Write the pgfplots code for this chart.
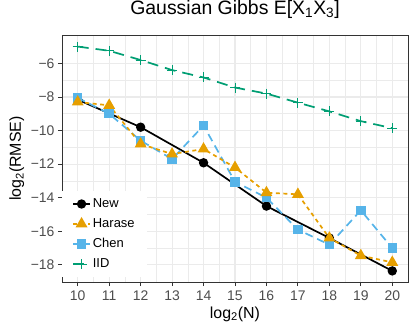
\documentclass[border=0pt]{standalone}
\usepackage{pgfplots}
\pgfplotsset{compat=1.18}
\usepackage{fontspec}
\setmainfont{Liberation Sans}
\definecolor{cnew}{HTML}{000000}
\definecolor{char}{HTML}{E69F00}
\definecolor{cchen}{HTML}{56B4E9}
\definecolor{ciid}{HTML}{009E73}
\definecolor{gridc}{HTML}{EBEBEB}
\definecolor{g20}{HTML}{333333}
\definecolor{g30}{HTML}{4D4D4D}
\begin{document}
\begin{tikzpicture}
\path[use as bounding box] (-62bp,-50bp) rectangle (353bp,282bp);
\begin{axis}[
  at={(0,0)}, anchor=south west,
  scale only axis, width=346bp, height=247bp,
  xmin=9.5, xmax=20.5, ymin=-19.02, ymax=-4.31,
  xtick={10,...,20},
  xticklabels={10,11,12,13,14,15,16,17,18,19,20},
  ytick={-18,-16,-14,-12,-10,-8,-6},
  yticklabels={−18,−16,−14,−12,−10,−8,−6},
  /pgf/number format/assume math mode=true,
  minor x tick num=1, minor y tick num=1,
  grid=both,
  major grid style={gridc, line width=1.1bp},
  minor grid style={gridc, line width=0.55bp},
  axis line style={g20, line width=0.9bp},
  tick align=outside, major tick length=4bp, minor tick length=0pt,
  tick style={g20, line width=0.9bp},
  xtick pos=bottom, ytick pos=left,
  ticklabel style={font=\fontsize{14}{16}\selectfont, text=g30},
  xticklabel style={anchor=base, yshift=-14bp},
  yticklabel style={anchor=east, xshift=0bp},
  title={Gaussian Gibbs E[X\textsubscript{1}X\textsubscript{3}]},
  title style={font=\fontsize{19.5}{22}\selectfont, at={(0.5,1)}, anchor=base, yshift=15bp, inner sep=0pt},
  xlabel={log\textsubscript{2}(N)},
  xlabel style={font=\fontsize{16}{18}\selectfont, at={(0.5,0)}, anchor=base, yshift=-36bp, inner sep=0pt},
  legend cell align=left,
  legend style={at={(0,0.37)}, anchor=north west, draw=none, fill=white,
     font=\fontsize{13}{15}\selectfont, row sep=5.5bp, inner xsep=10bp, inner ysep=6bp,
     /tikz/every even column/.append style={column sep=8bp}},
]
% IID
\addplot[forget plot, ciid, line width=1.7bp, dash pattern=on 11bp off 7bp,
  mark=+, mark size=5bp, mark options={solid, line width=1bp}] coordinates {
(10,-5.0) (11,-5.25) (12,-5.8) (13,-6.4) (14,-6.84) (15,-7.44) (16,-7.8) (17,-8.34) (18,-8.86) (19,-9.44) (20,-9.86)};
% New
\addplot[forget plot, cnew, line width=1.7bp, mark=*, mark size=3.8bp, mark options={solid}] coordinates {
(10,-8.16) (12,-9.8) (14,-11.92) (16,-14.5) (18,-16.4) (20,-18.36)};
% Chen
\addplot[forget plot, cchen, line width=1.7bp, dash pattern=on 8bp off 5bp,
  mark=square*, mark size=3.9bp, mark options={solid}] coordinates {
(10,-8.05) (11,-9.0) (12,-10.6) (13,-11.7) (14,-9.7) (15,-13.05) (16,-14.0) (17,-15.9) (18,-16.8) (19,-14.75) (20,-17.0)};
% Harase
\addplot[forget plot, char, line width=1.7bp, dash pattern=on 4bp off 3.5bp,
  mark=triangle*, mark size=5.2bp, mark options={solid}] coordinates {
(10,-8.3) (11,-8.5) (12,-10.8) (13,-11.4) (14,-11.1) (15,-12.2) (16,-13.7) (17,-13.8) (18,-16.4) (19,-17.45) (20,-17.85)};
\addlegendimage{cnew, line width=1.7bp, mark=*, mark size=3.8bp, mark options={solid}}
\addlegendimage{char, line width=1.7bp, dash pattern=on 4bp off 3.5bp, mark=triangle*, mark size=5.2bp, mark options={solid}}
\addlegendimage{cchen, line width=1.7bp, dash pattern=on 8bp off 5bp, mark=square*, mark size=3.9bp, mark options={solid}}
\addlegendimage{ciid, line width=1.7bp, dash pattern=on 11bp off 7bp, mark=+, mark size=5bp, mark options={solid, line width=1bp}}
\legend{New,Harase,Chen,IID}
\end{axis}
\node[rotate=90, anchor=base, inner sep=0pt, font=\fontsize{16}{18}\selectfont] at (-41bp,123.5bp) {log\textsubscript{2}(RMSE)};
\end{tikzpicture}
\end{document}
